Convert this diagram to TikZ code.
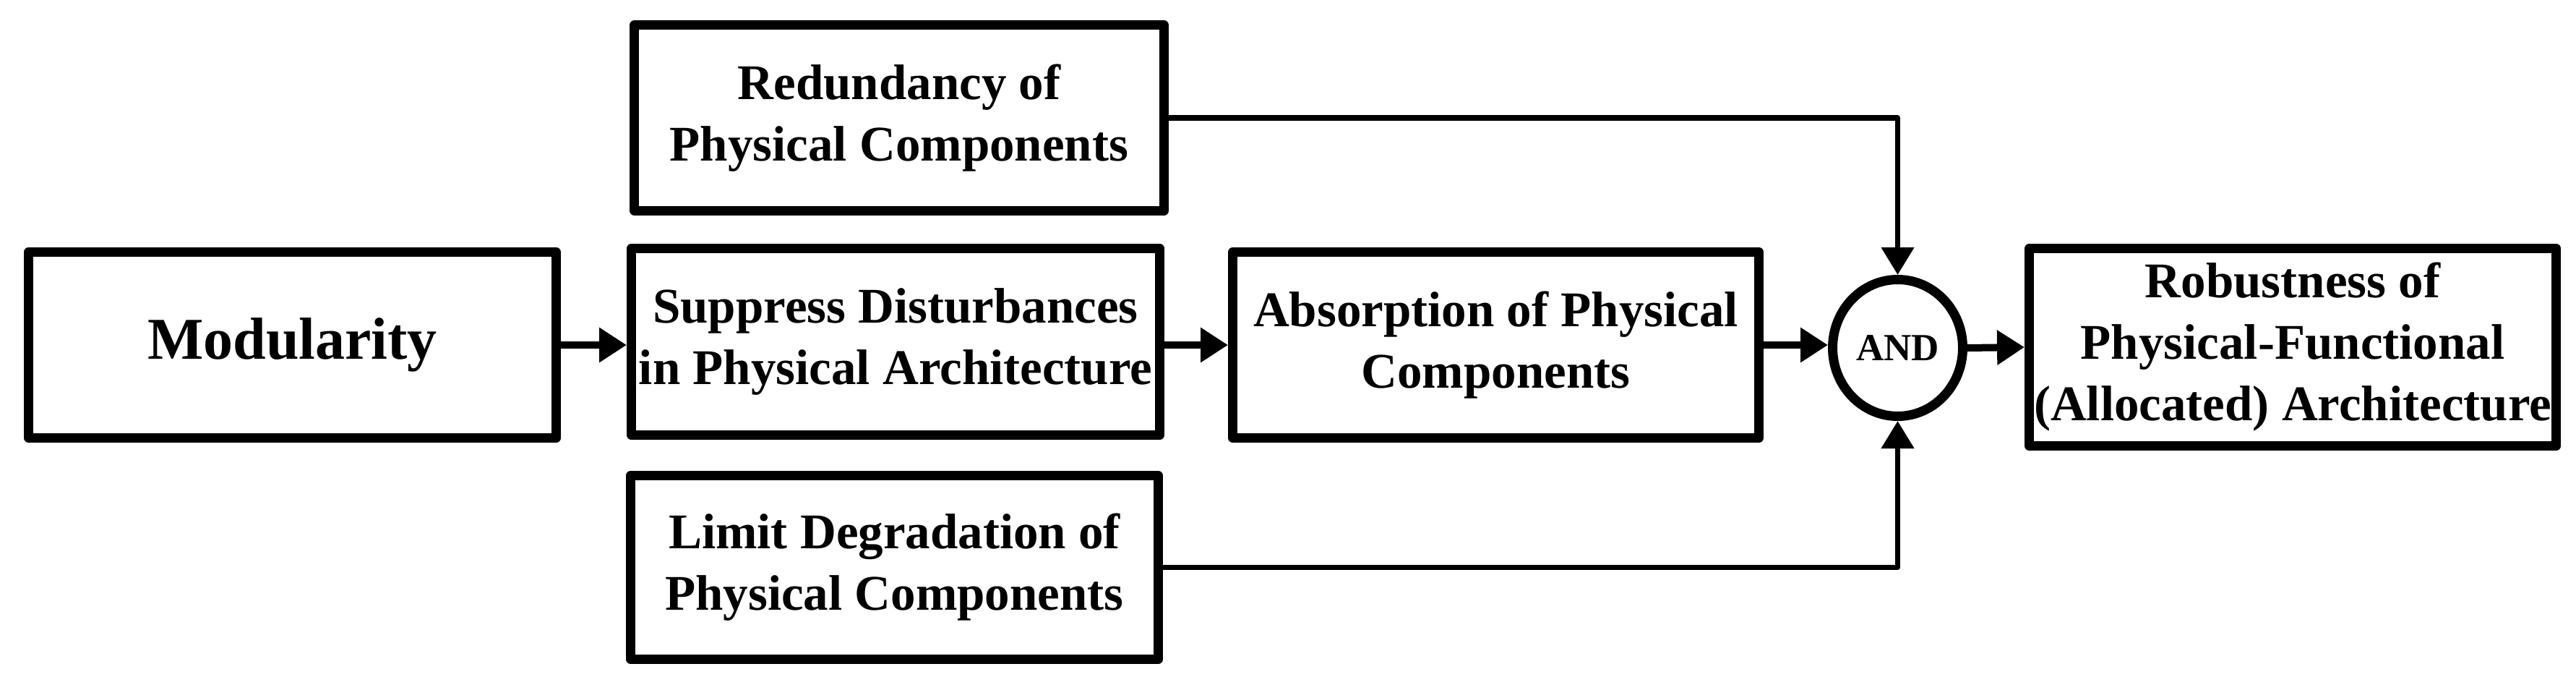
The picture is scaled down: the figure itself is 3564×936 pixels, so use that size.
\documentclass[tikz,border=0pt]{standalone}
\usepackage{fontspec}
\setmainfont{Liberation Serif}
\usetikzlibrary{arrows.meta,shapes.geometric}
\begin{document}
\begin{tikzpicture}[x=1pt,y=-1pt,
  box/.style={draw, line width=13pt, line join=round, fill=white, inner sep=0pt,
    align=center, font=\bfseries\fontsize{69}{85}\selectfont},
  andnode/.style={ellipse, draw, line width=13pt, fill=white, inner sep=0pt,
    minimum width=180pt, minimum height=189pt, font=\bfseries\fontsize{53}{60}\selectfont},
  harrow/.style={line width=10pt, -{Triangle[length=38pt,width=46pt]}},
  varrow/.style={line width=7.5pt, line join=round, -{Triangle[length=38pt,width=44pt]}}]
\useasboundingbox (0,0) rectangle (3564,936);
\node[box, minimum width=730pt, minimum height=257pt,
  font=\bfseries\fontsize{82}{90}\selectfont] (mod) at (404.5,477) {Modularity};
\node[box, minimum width=733pt, minimum height=256pt] (red) at (1244,163)
  {Redundancy of\\Physical Components};
\node[box, minimum width=731pt, minimum height=258pt] (sup) at (1239,472.5)
  {Suppress Disturbances\\in Physical Architecture};
\node[box, minimum width=728pt, minimum height=257pt] (abs) at (2069.5,477)
  {Absorption of Physical\\Components};
\node[box, minimum width=730pt, minimum height=254pt] (lim) at (1237.5,784.5)
  {Limit Degradation of\\Physical Components};
\node[box, minimum width=729pt, minimum height=273pt] (rob) at (3172,480)
  {Robustness of\\Physical-Functional\\(Allocated) Architecture};
\node[andnode] (and) at (2625.5,481) {AND};
\draw[harrow] (mod.east) -- (sup.west |- mod.east);
\draw[harrow] (sup.east |- abs.west) -- (abs.west);
\draw[harrow] (abs.east) -- (and.west |- abs.east);
\draw[harrow] (and.east) -- (rob.west);
\draw[varrow] (red.east) -| (and.north);
\draw[varrow] (lim.east) -| (and.south);
\end{tikzpicture}
\end{document}
